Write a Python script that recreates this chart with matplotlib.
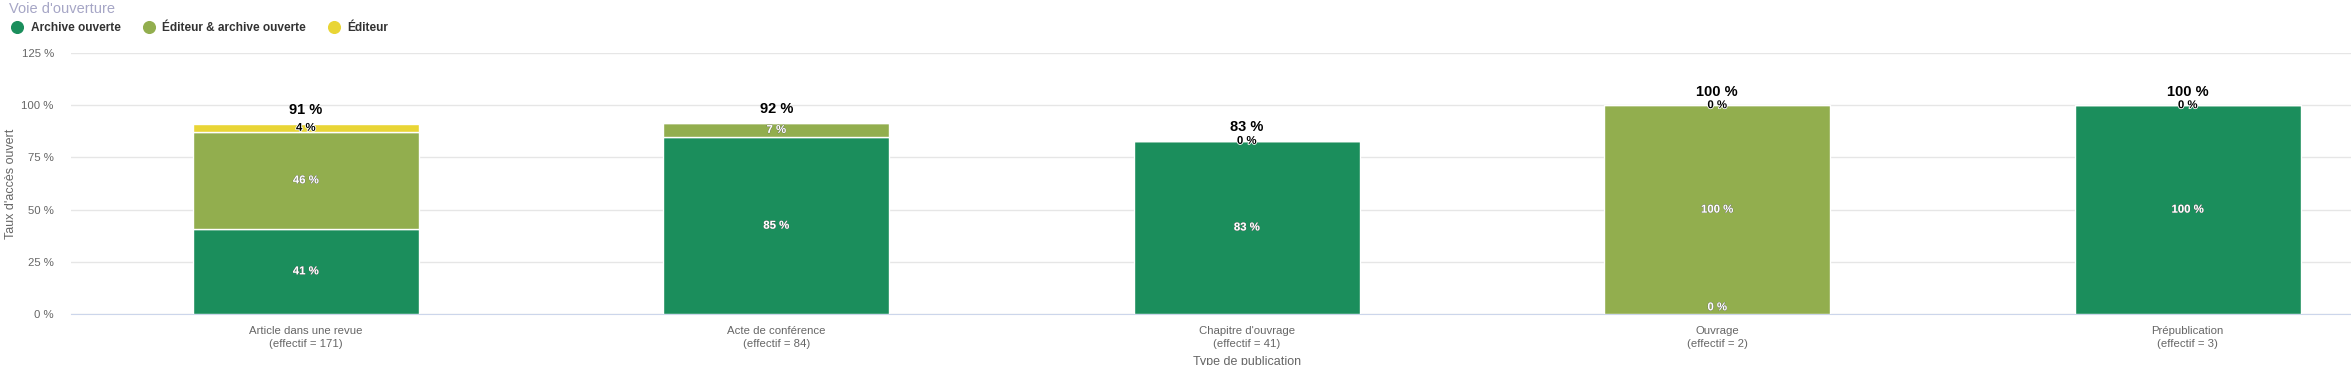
import numpy as np
import matplotlib.pyplot as plt
import matplotlib.patheffects as pe
from matplotlib.lines import Line2D

plt.rcParams['font.family'] = ['Liberation Sans', 'DejaVu Sans']

# Data
categories = ['Article dans une revue', 'Acte de conférence', "Chapitre d'ouvrage",
              'Ouvrage', 'Prépublication']
effectifs = [171, 84, 41, 2, 3]
archive_ouverte = [40.9, 84.6, 82.9, 0.0, 100.0]
editeur_archive = [46.2, 7.1, None, 100.0, None]
editeur = [4.1, None, 0.0, 0.0, 0.0]
totals = [91, 92, 83, 100, 100]

series_names = ['Archive ouverte', 'Éditeur & archive ouverte', 'Éditeur']
colors = ['#1b8e5c', '#92ae4e', '#e9d535']
label_colors = ['white', 'white', 'black']

W, H = 2351, 365
fig = plt.figure(figsize=(W / 100, H / 100), dpi=100)

# plot area: 0 % at y=314 px, 125 % at y=53 px, category width ~470 px
left_px, top_px, bottom_px = 70.5, 53, 314
cat_w = 470.5
ax = fig.add_axes([left_px / W, (H - bottom_px) / H, (W - left_px) / W, (bottom_px - top_px) / H])
ax.set_xlim(-0.5, (W - left_px) / cat_w - 0.5)
ax.set_ylim(0, 125)

x = np.arange(len(categories))
bw = 0.48
bottom = np.zeros(len(categories))
for vals, name, col, lc in zip([archive_ouverte, editeur_archive, editeur], series_names, colors, label_colors):
    v = np.array([np.nan if a is None else a for a in vals], dtype=float)
    h = np.nan_to_num(v)
    ax.bar(x, h, bw, bottom=bottom, color=col, edgecolor='white', linewidth=1, zorder=3)
    for i in range(len(x)):
        if np.isnan(v[i]):
            continue
        if v[i] == 0 and bottom[i] == 0:
            ypos, va = 0.8, 'bottom'
        else:
            ypos, va = bottom[i] + v[i] / 2, 'center'
        if lc == 'white':
            effects = [pe.withStroke(linewidth=0.4, foreground='#555555')]
        else:
            effects = [pe.withStroke(linewidth=1.2, foreground='white')]
        ax.text(x[i], ypos, f'{v[i]:.0f} %', ha='center', va=va, fontsize=8.2,
                fontweight='bold', color=lc, zorder=5, path_effects=effects)
    bottom = bottom + h

for i, t in enumerate(totals):
    ax.text(x[i], bottom[i] + 3.2, f'{t} %', ha='center', va='bottom', fontsize=10.5,
            fontweight='bold', color='black', zorder=5)

ax.set_yticks([0, 25, 50, 75, 100, 125])
ax.set_yticklabels([f'{v} %' for v in [0, 25, 50, 75, 100, 125]])
ax.yaxis.grid(True, color='#e6e6e6', linewidth=1, zorder=0)
ax.set_xticks(x)
ax.set_xticklabels([f'{c}\n(effectif = {n})' for c, n in zip(categories, effectifs)],
                   fontsize=8.2, color='#666666', linespacing=1.35)
ax.tick_params(axis='x', length=0, pad=9)
ax.tick_params(axis='y', length=0, pad=12, labelsize=8.2, labelcolor='#666666')
for s in ['top', 'right', 'left']:
    ax.spines[s].set_visible(False)
ax.spines['bottom'].set_color('#ccd6eb')

ax.set_ylabel("Taux d'accès ouvert", fontsize=9, color='#666666')
ax.yaxis.set_label_coords((17 - left_px) / (W - left_px), 0.5)
ax.text(2, (bottom_px - 362) / (bottom_px - top_px), 'Type de publication', transform=ax.get_xaxis_transform(),
        ha='center', va='center', fontsize=9, color='#666666')

fig.text(9 / W, 1 - 9 / H, "Voie d'ouverture", fontsize=10.5, color='#a6a6c6', ha='left', va='center')

handles = [Line2D([], [], marker='o', linestyle='', markersize=8.4, color=c) for c in colors]
fig.legend(handles, series_names, loc='center left', bbox_to_anchor=(11.5 / W, 1 - 28 / H), ncol=3,
           frameon=False, prop={'weight': 'bold', 'size': 8.6}, handletextpad=0.61,
           columnspacing=1.87, handlelength=1.0, borderpad=0, borderaxespad=0,
           labelcolor='#333333')

fig.savefig('out.png', dpi=100)
